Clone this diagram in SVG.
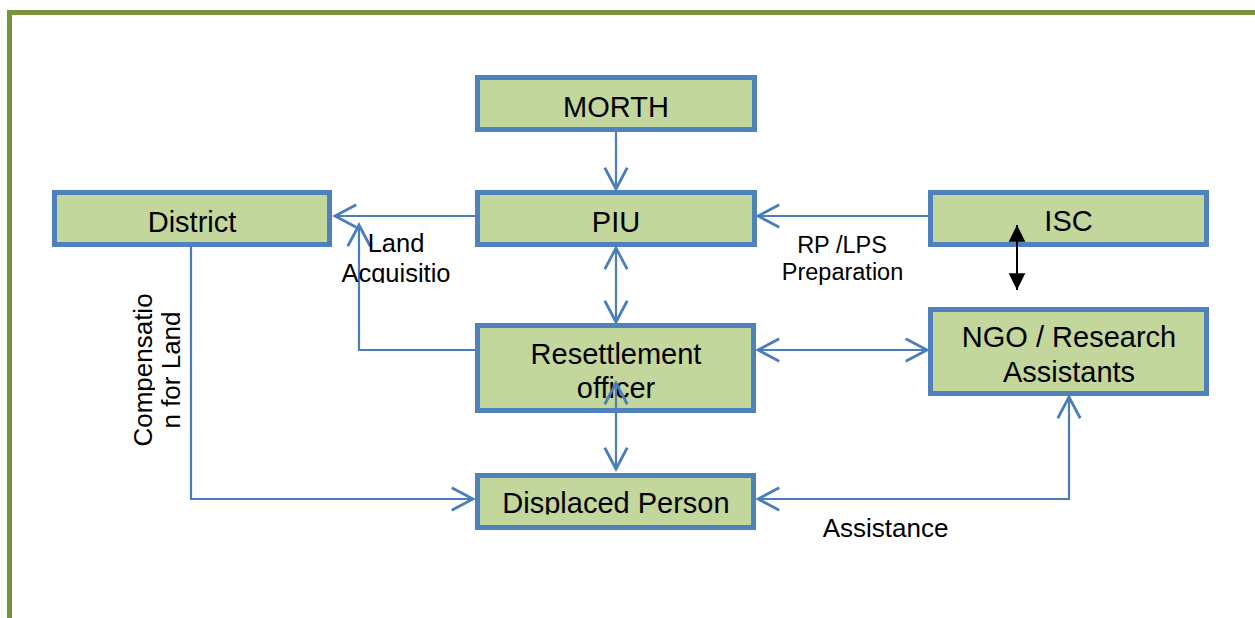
<svg xmlns="http://www.w3.org/2000/svg" width="1255" height="618" viewBox="0 0 1255 618">
<style>
.box{fill:#C3D69B;stroke:#4F81BD;stroke-width:5}
.t{font-family:"Liberation Sans",Arial,sans-serif;font-size:29px;fill:#000;text-anchor:middle}
.l{font-family:"Liberation Sans",Arial,sans-serif;font-size:26px;fill:#000;text-anchor:middle}
.c{fill:none;stroke:#4A7EBB;stroke-width:2.2}
</style>
<defs>
<marker id="open" markerUnits="userSpaceOnUse" markerWidth="30" markerHeight="30" viewBox="-20 -12 24 24" refX="0" refY="0" orient="auto-start-reverse" overflow="visible">
<path d="M-17,-9 L0,0 L-17,9" fill="none" stroke="#4A7EBB" stroke-width="2.2"/>
</marker>
<marker id="solid" markerUnits="userSpaceOnUse" markerWidth="20" markerHeight="20" viewBox="-16 -8 18 16" refX="0" refY="0" orient="auto-start-reverse" overflow="visible">
<path d="M-15,-7.5 L0,0 L-15,7.5 Z" fill="#000"/>
</marker>
<clipPath id="clipDP"><rect x="470" y="460" width="300" height="54.5"/></clipPath>
<clipPath id="clipLA"><rect x="320" y="225" width="160" height="58"/></clipPath>
<clipPath id="clipC1"><rect x="100" y="250" width="55" height="250"/></clipPath>
<clipPath id="clipC2"><rect x="157.5" y="250" width="40" height="250"/></clipPath>
</defs>
<rect x="0" y="0" width="1255" height="618" fill="#fff"/>
<g id="frame">
<rect x="7" y="10" width="1248" height="5" fill="#77933C"/>
<rect x="7" y="10" width="5" height="608" fill="#77933C"/>
</g>
<g id="morth"><rect class="box" x="477.5" y="77.5" width="277" height="52"/><text class="t" x="616" y="117">MORTH</text></g>
<g id="piu"><rect class="box" x="477.5" y="192.5" width="277" height="52"/><text class="t" x="616" y="232">PIU</text></g>
<g id="district"><rect class="box" x="54.5" y="192.5" width="275" height="52"/><text class="t" x="192" y="232">District</text></g>
<g id="isc"><rect class="box" x="930.5" y="192.5" width="276" height="52"/><text class="t" x="1068.5" y="231">ISC</text></g>
<g id="resettlement"><rect class="box" x="477.5" y="325.5" width="276" height="85"/><text class="t" x="616" y="364">Resettlement</text><text class="t" x="616" y="398">officer</text></g>
<g id="ngo"><rect class="box" x="930.5" y="309.5" width="276" height="84"/><text class="t" x="1069" y="347">NGO / Research</text><text class="t" x="1069" y="382">Assistants</text></g>
<g id="displaced"><rect class="box" x="477.5" y="475.5" width="276" height="52"/><text class="t" x="616" y="513" clip-path="url(#clipDP)">Displaced Person</text></g>
<g id="connectors">
<line class="c" x1="616" y1="132" x2="616" y2="189" marker-end="url(#open)"/>
<line class="c" x1="475" y1="216" x2="335" y2="216" marker-end="url(#open)"/>
<line class="c" x1="928" y1="216" x2="758" y2="216" marker-end="url(#open)"/>
<line class="c" x1="616" y1="248" x2="616" y2="322" marker-start="url(#open)" marker-end="url(#open)"/>
<path class="c" d="M475,350 H359 V225" marker-end="url(#open)"/>
<line class="c" x1="758" y1="350" x2="927" y2="350" marker-start="url(#open)" marker-end="url(#open)"/>
<line class="c" x1="616" y1="383" x2="616" y2="469" marker-start="url(#open)" marker-end="url(#open)"/>
<path class="c" d="M191,247 V499 H473" marker-end="url(#open)"/>
<path class="c" d="M758,499 H1069 V397" marker-start="url(#open)" marker-end="url(#open)"/>
<line x1="1017" y1="225" x2="1017" y2="290" stroke="#000" stroke-width="2" marker-start="url(#solid)" marker-end="url(#solid)"/>
</g>
<g id="labels">
<g clip-path="url(#clipLA)"><text class="l" x="396" y="252" style="font-size:25.5px">Land</text><text class="l" x="396" y="282" style="font-size:25.5px">Acquisitio</text></g>
<text class="l" x="842" y="253" style="font-size:23.5px">RP /LPS</text>
<text class="l" x="842.5" y="280" style="font-size:23.5px">Preparation</text>
<text class="l" x="885.5" y="537">Assistance</text>
<g clip-path="url(#clipC1)"><text class="l" transform="translate(152,370) rotate(-90)" x="0" y="0">Compensatio</text></g>
<g clip-path="url(#clipC2)"><text class="l" transform="translate(180,370) rotate(-90)" x="0" y="0">n for Land</text></g>
</g>
</svg>
